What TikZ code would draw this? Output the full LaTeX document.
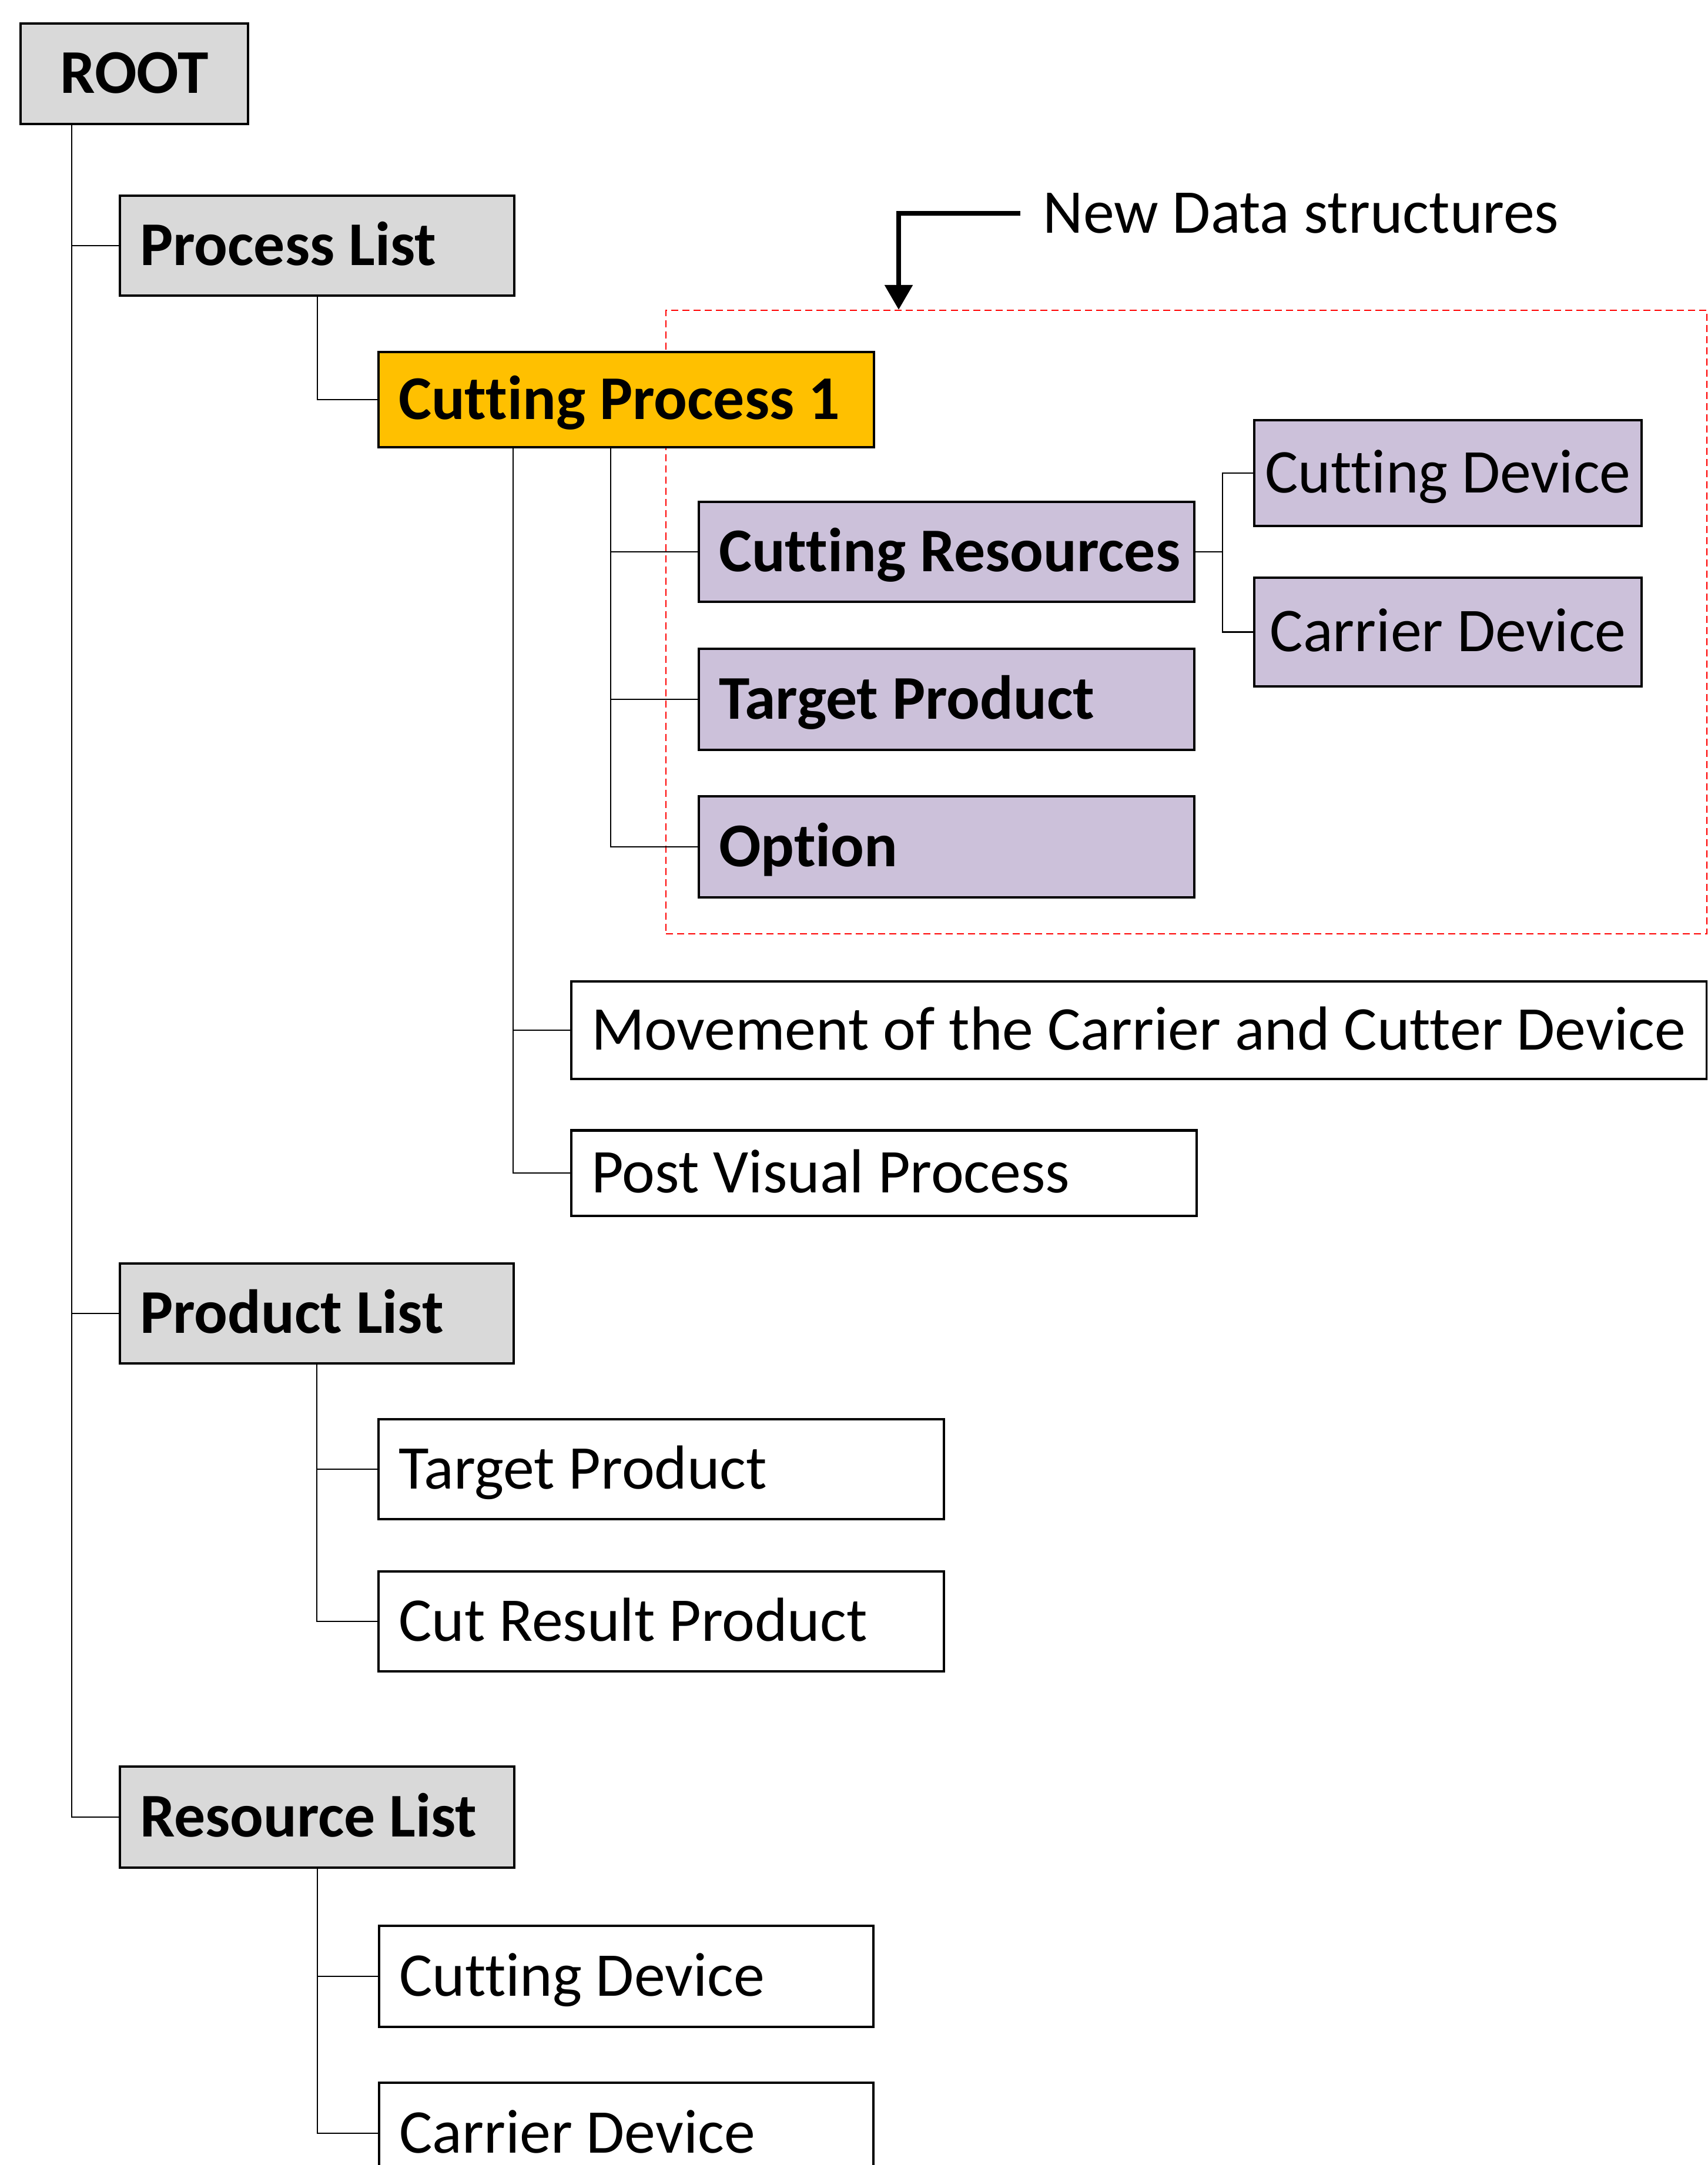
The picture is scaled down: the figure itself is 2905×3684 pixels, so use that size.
\documentclass[tikz,border=0pt]{standalone}
\usepackage{fontspec}
\setmainfont{Carlito}[Ligatures=NoCommon]
\usetikzlibrary{arrows.meta}
\definecolor{boxgray}{HTML}{D9D9D9}
\definecolor{cpyellow}{HTML}{FFC000}
\definecolor{newpurple}{HTML}{CCC1DA}
\definecolor{dashred}{HTML}{FF0000}
\newcommand\lbltxt[2]{\makebox[#1][l]{#2}}
\begin{document}
\begin{tikzpicture}[x=0.01cm,y=-0.01cm,
  txt/.style={font=\fontsize{30.1}{36}\selectfont, text height=19pt, text depth=0pt},
  box/.style={txt, draw=black, line width=1.15pt, rectangle, inner ysep=0pt},
  lbox/.style={box, anchor=west, inner xsep=0.34cm},
  cbox/.style={box, inner xsep=0pt},
  graybox/.style={fill=boxgray, font=\fontsize{30.1}{36}\selectfont\bfseries},
  yellowbox/.style={fill=cpyellow, font=\fontsize{30.1}{36}\selectfont\bfseries},
  purplebold/.style={fill=newpurple, font=\fontsize{30.1}{36}\selectfont\bfseries},
  purplebox/.style={fill=newpurple},
  whitebox/.style={fill=white},
  conn/.style={draw=black, line width=0.6pt},
  region/.style={draw=dashred, line width=0.7pt, dash pattern=on 0.12cm off 0.07cm, rectangle, inner sep=0pt, anchor=north west},
  callout/.style={draw=black, line width=2.4pt, -{Triangle[width=0.46cm,length=0.42cm]}}
]
\useasboundingbox (0,0) rectangle (2905,3684);
\clip (0,0) rectangle (2905,3684);

% trunk coordinates
\coordinate (rtrunk) at (122,0);
\coordinate (cptrunkA) at (873,0);
\coordinate (cptrunkB) at (1039,0);
\coordinate (crj) at (2080,939);
\coordinate (arrx) at (1529,0);

% dashed region of new data structures
\node[region, minimum width=17.70cm, minimum height=10.60cm] (newds) at (1132,527) {};

% nodes
\node[cbox, graybox, minimum width=3.87cm, minimum height=1.71cm] (root) at (228.5,125.5) {ROOT};
\node[lbox, graybox, minimum height=1.70cm] (pl) at (202,418) {\lbltxt{6.03cm}{Process List}};
\node[lbox, yellowbox, minimum height=1.61cm] (cp) at (642,680) {\lbltxt{7.74cm}{Cutting Process 1}};
\node[lbox, purplebold, minimum height=1.70cm] (cr) at (1187,939) {\lbltxt{7.74cm}{Cutting Resources}};
\node[lbox, purplebold, minimum height=1.71cm] (tp1) at (1187,1190) {\lbltxt{7.74cm}{Target Product}};
\node[lbox, purplebold, minimum height=1.71cm] (opt) at (1187,1441) {\lbltxt{7.74cm}{Option}};
\node[cbox, purplebox, minimum width=6.59cm, minimum height=1.80cm] (cd1) at (2463.5,805) {Cutting Device};
\node[cbox, purplebox, minimum width=6.59cm, minimum height=1.85cm] (cv1) at (2463.5,1075.5) {Carrier Device};
\node[lbox, whitebox, minimum height=1.66cm] (mv) at (970,1753) {\lbltxt{18.63cm}{Movement of the Carrier and Cutter Device}};
\node[lbox, whitebox, minimum height=1.45cm] (pv) at (970,1996) {\lbltxt{9.95cm}{Post Visual Process}};
\node[lbox, graybox, minimum height=1.70cm] (prl) at (202,2235) {\lbltxt{6.02cm}{Product List}};
\node[lbox, whitebox, minimum height=1.70cm] (tp2) at (642,2500) {\lbltxt{8.93cm}{Target Product}};
\node[lbox, whitebox, minimum height=1.70cm] (crp) at (642,2759) {\lbltxt{8.93cm}{Cut Result Product}};
\node[lbox, graybox, minimum height=1.72cm] (rl) at (202,3092) {\lbltxt{6.03cm}{Resource List}};
\node[lbox, whitebox, minimum height=1.72cm] (cd2) at (643,3363) {\lbltxt{7.72cm}{Cutting Device}};
\node[lbox, whitebox, minimum height=1.72cm] (cv2) at (643,3630) {\lbltxt{7.72cm}{Carrier Device}};

\node[txt, anchor=west, inner xsep=0.38cm, inner ysep=0pt] (ndlabel) at (1736,363) {New Data structures};

% connectors
\draw[conn] (root.south -| rtrunk) |- (pl.west);
\draw[conn] (root.south -| rtrunk) |- (prl.west);
\draw[conn] (root.south -| rtrunk) |- (rl.west);
\draw[conn] (pl.south) |- (cp.west);
\draw[conn] (cp.south -| cptrunkB) |- (cr.west);
\draw[conn] (cp.south -| cptrunkB) |- (tp1.west);
\draw[conn] (cp.south -| cptrunkB) |- (opt.west);
\draw[conn] (cp.south -| cptrunkA) |- (mv.west);
\draw[conn] (cp.south -| cptrunkA) |- (pv.west);
\draw[conn] (cr.east) -- (crj) |- (cd1.west);
\draw[conn] (crj) |- (cv1.west);
\draw[conn] (prl.south) |- (tp2.west);
\draw[conn] (prl.south) |- (crp.west);
\draw[conn] (rl.south) |- (cd2.west);
\draw[conn] (rl.south) |- (cv2.west);

% callout arrow
\draw[callout] (ndlabel.west) -| (newds.north -| arrx);
\end{tikzpicture}
\end{document}
